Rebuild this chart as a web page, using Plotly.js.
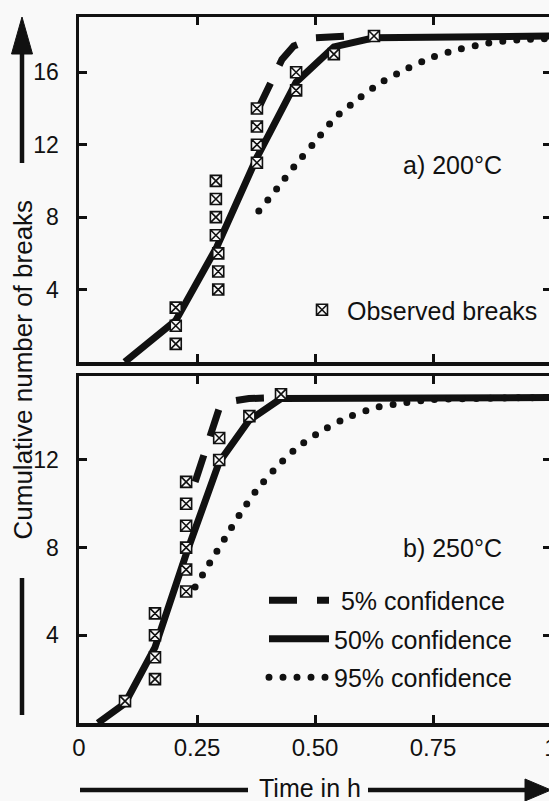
<!DOCTYPE html>
<html>
<head>
<meta charset="utf-8">
<script src="https://cdn.plot.ly/plotly-3.0.1.min.js"></script>
<style>
  html, body { margin: 0; padding: 0; overflow: hidden; background: #f9f9f9; }
  #chart { width: 560px; height: 801px; }
</style>
</head>
<body>
<div id="chart"></div>
<script>
// Time axis
const timeTicks = [0, 0.25, 0.5, 0.75, 1];
const timeTickText = ['0', '0.25', '0.50', '0.75', '1'];

// a) 200 °C — observed breaks
const obs200Time = [0.205, 0.205, 0.205, 0.295, 0.295, 0.295, 0.29, 0.29, 0.29, 0.29,
                    0.377, 0.377, 0.377, 0.377, 0.46, 0.46, 0.54, 0.625];
const obs200Count = [1, 2, 3, 4, 5, 6, 7, 8, 9, 10, 11, 12, 13, 14, 15, 16, 17, 18];

// a) 200 °C — fitted curves
const fit50_200Time  = [0.097, 0.205, 0.292, 0.377, 0.46, 0.54, 0.625, 1.0];
const fit50_200Count = [0, 2.3, 6.35, 11.3, 15.45, 17.4, 17.9, 18.0];
const fit05_200Time  = [0.38, 0.43, 0.455, 0.5, 0.6];
const fit05_200Count = [14.0, 16.7, 17.45, 17.9, 18.05];
const fit95_200Time  = [0.381, 0.422, 0.462, 0.5, 0.542, 0.589, 0.638, 0.693, 0.75, 0.807, 0.867, 0.928, 1.0];
const fit95_200Count = [8.34, 9.66, 10.99, 12.15, 13.47, 14.47, 15.4, 16.18, 16.84, 17.28, 17.61, 17.78, 17.86];

// b) 250 °C — observed breaks
const obs250Time = [0.0975, 0.161, 0.161, 0.161, 0.161, 0.227, 0.227, 0.227, 0.227, 0.227, 0.227,
                    0.297, 0.297, 0.361, 0.428];
const obs250Count = [1, 2, 3, 4, 5, 6, 7, 8, 9, 10, 11, 12, 13, 14, 15];

// b) 250 °C — fitted curves
const fit50_250Time  = [0.04, 0.0975, 0.161, 0.227, 0.297, 0.36, 0.428, 1.0];
const fit50_250Count = [0, 0.9, 3.45, 7.7, 11.9, 13.8, 14.8, 14.85];
const fit05_250Time  = [0.246, 0.297, 0.33, 0.36, 0.43];
const fit05_250Count = [11.0, 14.35, 14.7, 14.8, 14.85];
const fit95_250Time  = [0.246, 0.277, 0.31, 0.343, 0.379, 0.42, 0.464, 0.517, 0.57, 0.63, 0.689, 0.75, 1.0];
const fit95_250Count = [6.2, 7.3, 8.46, 9.6, 10.7, 11.7, 12.6, 13.36, 13.95, 14.4, 14.6, 14.75, 14.85];

const INK = '#111111';
const BG = '#f9f9f9';
const FONT = '"Liberation Sans", Arial, Helvetica, sans-serif';

// Figure geometry (pixels) used to place decorations in paper space
const W = 560, H = 801;
const M = { l: 79, r: 9, t: 17, b: 78 };
const plotW = W - M.l - M.r;
const plotH = H - M.t - M.b;
const px = x => (x - M.l) / plotW;
const py = y => (H - M.b - y) / plotH;

const solid = { color: INK, width: 7 };
const dashed = { color: INK, width: 7, dash: '28px,20px' };
const dotted = { color: INK, width: 7, dash: '0px,14px', shape: 'spline', smoothing: 0.6 };
const boxMarker = { symbol: 'square-x', size: 11, color: BG, line: { color: INK, width: 1.6 } };

const data = [
  // 200 °C panel
  { x: fit50_200Time, y: fit50_200Count, xaxis: 'x', yaxis: 'y', mode: 'lines', line: solid, showlegend: false, hoverinfo: 'skip' },
  { x: fit05_200Time, y: fit05_200Count, xaxis: 'x', yaxis: 'y', mode: 'lines', line: dashed, showlegend: false, hoverinfo: 'skip' },
  { x: fit95_200Time, y: fit95_200Count, xaxis: 'x', yaxis: 'y', mode: 'lines', line: dotted, showlegend: false, hoverinfo: 'skip' },
  // 250 °C panel (carries the line legend)
  { x: fit05_250Time, y: fit05_250Count, xaxis: 'x2', yaxis: 'y2', mode: 'lines', line: dashed,
    name: '\u00a05% confidence', legend: 'legend2', legendgroup: 'g5' },
  { x: fit50_250Time, y: fit50_250Count, xaxis: 'x2', yaxis: 'y2', mode: 'lines', line: solid,
    name: '50% confidence', legend: 'legend2', legendgroup: 'g50' },
  { x: fit95_250Time, y: fit95_250Count, xaxis: 'x2', yaxis: 'y2', mode: 'lines', line: dotted,
    name: '95% confidence', legend: 'legend2', legendgroup: 'g95' },
  // observed breaks
  { x: obs200Time, y: obs200Count, xaxis: 'x', yaxis: 'y', mode: 'markers', marker: boxMarker,
    name: 'Observed breaks', legend: 'legend' },
  { x: obs250Time, y: obs250Count, xaxis: 'x2', yaxis: 'y2', mode: 'markers', marker: boxMarker,
    showlegend: false }
];

const axisCommon = {
  ticks: 'inside', ticklen: 8, tickwidth: 3, tickcolor: INK,
  showline: true, linewidth: 3.5, linecolor: INK, mirror: 'ticks',
  showgrid: false, zeroline: false, fixedrange: true,
  tickfont: { family: FONT, size: 23, color: INK }
};

const label = (text, x, y, size, extra) => Object.assign({
  text, xref: 'paper', yref: 'paper', x: px(x), y: py(y),
  xanchor: 'center', yanchor: 'middle', showarrow: false,
  font: { family: FONT, size, color: INK }
}, extra || {});

const layout = {
  width: W, height: H,
  margin: M,
  paper_bgcolor: BG, plot_bgcolor: BG,
  font: { family: FONT, size: 23, color: INK },
  xaxis: Object.assign({}, axisCommon, {
    anchor: 'y', domain: [0, 1], range: [0, 1],
    tickvals: timeTicks, showticklabels: false
  }),
  yaxis: Object.assign({}, axisCommon, {
    anchor: 'x', domain: [py(362), 1], range: [0, 19.05],
    tickvals: [4, 8, 12, 16], ticklabelstandoff: 12
  }),
  xaxis2: Object.assign({}, axisCommon, {
    anchor: 'y2', domain: [0, 1], range: [0, 1],
    tickvals: timeTicks, ticktext: timeTickText, ticklabelstandoff: 1,
    tickfont: { family: FONT, size: 24, color: INK }
  }),
  yaxis2: Object.assign({}, axisCommon, {
    anchor: 'x2', domain: [0, py(376)], range: [0, 15.83],
    tickvals: [4, 8, 12], ticklabelstandoff: 12
  }),
  legend: {
    x: px(297), xanchor: 'left', y: py(310), yanchor: 'middle',
    bgcolor: 'rgba(0,0,0,0)', borderwidth: 0, itemwidth: 40,
    font: { family: FONT, size: 25, color: INK }
  },
  legend2: {
    x: px(264), xanchor: 'left', y: py(639), yanchor: 'middle',
    bgcolor: 'rgba(0,0,0,0)', borderwidth: 0, itemwidth: 60,
    traceorder: 'grouped', tracegroupgap: 3,
    font: { family: FONT, size: 25, color: INK }
  },
  annotations: [
    label('a) 200°C', 452, 165, 25),
    label('b) 250°C', 452, 548, 25),
    label('Cumulative number of breaks', 22.5, 370, 26, { textangle: -90 }),
    label('Time in h', 309.5, 788, 25)
  ],
  shapes: [
    // vertical arrow beside the count axis
    { type: 'line', xref: 'paper', yref: 'paper', x0: px(22), y0: py(163), x1: px(22), y1: py(50),
      line: { color: INK, width: 4.5 } },
    { type: 'path', xref: 'paper', yref: 'paper',
      path: `M ${px(22)} ${py(17)} L ${px(11.5)} ${py(54)} L ${px(32.5)} ${py(54)} Z`,
      fillcolor: INK, line: { color: INK, width: 1 } },
    { type: 'line', xref: 'paper', yref: 'paper', x0: px(22), y0: py(578), x1: px(22), y1: py(715),
      line: { color: INK, width: 4.5 } },
    // horizontal arrow under the time axis
    { type: 'line', xref: 'paper', yref: 'paper', x0: px(80), y0: py(790), x1: px(248), y1: py(790),
      line: { color: INK, width: 4.5 } },
    { type: 'line', xref: 'paper', yref: 'paper', x0: px(368), y0: py(790), x1: px(527), y1: py(790),
      line: { color: INK, width: 4.5 } },
    { type: 'path', xref: 'paper', yref: 'paper',
      path: `M ${px(551)} ${py(790)} L ${px(525)} ${py(779)} L ${px(525)} ${py(801)} Z`,
      fillcolor: INK, line: { color: INK, width: 1 } }
  ]
};

Plotly.newPlot('chart', data, layout, { displayModeBar: false, staticPlot: true }).then(gd => {
  // zero-length dashes with round caps give the dotted curves round dots
  gd.querySelectorAll('path').forEach(p => {
    const d = p.style.strokeDasharray || '';
    if (d.startsWith('0')) p.style.strokeLinecap = 'round';
  });
});
</script>
</body>
</html>
